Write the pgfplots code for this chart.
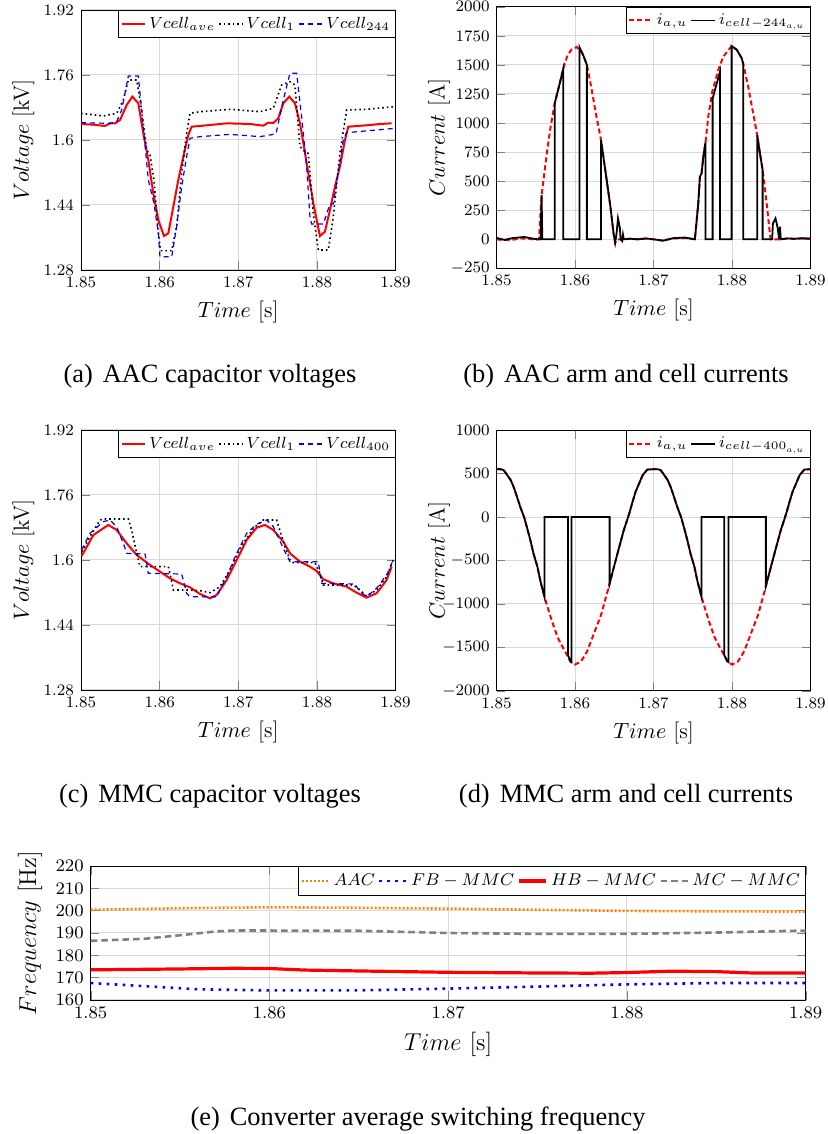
\RequirePackage{fix-cm}
\documentclass[border=0pt]{standalone}
\usepackage{fontspec}
\newfontfamily\capfont{Liberation Serif}
\usepackage{pgfplots}
\pgfplotsset{compat=1.18}
\pgfplotsset{
  base/.style={
    scale only axis, anchor=south west,
    xmin=1.85, xmax=1.89,
    xtick={1.85,1.86,1.87,1.88,1.89},
    xticklabel style={/pgf/number format/.cd, fixed, fixed zerofill, precision=2},
    yticklabel style={/pgf/number format/1000 sep={}},
    scaled x ticks=false, scaled y ticks=false,
    grid=major, grid style={gray!30, line width=0.5pt},
    tick label style={font=\fontsize{8}{9.5}\selectfont},
    label style={font=\fontsize{11}{13}\selectfont},
    ylabel style={at={(axis description cs:-0.183,0.5)}, anchor=center},
    xlabel={$Time$ [s]},
    legend style={at={(1,1)}, anchor=north east, draw=black, fill=white,
      font=\fontsize{8.1}{9.5}\selectfont, inner xsep=1pt, inner ysep=1pt,
      nodes={inner xsep=1.5pt, inner ysep=2.2pt},
      /tikz/every even column/.append style={column sep=0pt}},
    legend columns=-1,
    legend image code/.code={\draw[#1] (0cm,0cm) -- (0.42cm,0cm);},
  },
  vstyle/.style={base, ymin=1.28, ymax=1.92, ytick={1.28,1.44,1.6,1.76,1.92},
    ylabel={$Voltage$ [kV]}},
  avel/.style={red, line width=1pt},
  onel/.style={black, line width=0.8pt, dash pattern=on 0.8pt off 1.5pt},
  twol/.style={blue, line width=0.6pt, dash pattern=on 2.5pt off 2pt},
  iarm/.style={red, line width=1pt, dash pattern=on 2.5pt off 1.5pt},
  icell/.style={black, line width=0.9pt},
}
\begin{document}
\begin{tikzpicture}
\path[use as bounding box] (0,0) rectangle (414pt,567pt);

% (a)
\begin{axis}[vstyle, at={(40.5pt,432pt)}, width=157.3pt, height=130pt]
\addplot[avel] coordinates {
(1.8500,1.6394)(1.85157,1.6377)(1.85305,1.6345)(1.85369,1.6410)(1.85432,1.6410)
(1.85496,1.6492)(1.85581,1.6862)(1.85653,1.7067)(1.85729,1.6903)(1.85792,1.6164)
(1.85856,1.5508)(1.85919,1.4687)(1.85983,1.4031)(1.86055,1.3637)(1.86110,1.3703)
(1.86174,1.4359)(1.86237,1.5015)(1.86301,1.5590)(1.86364,1.6123)(1.86407,1.6328)
(1.86513,1.6345)(1.86852,1.6410)(1.87148,1.6394)(1.87318,1.6353)(1.87381,1.6427)
(1.87445,1.6418)(1.87508,1.6533)(1.87572,1.6903)(1.87648,1.7067)(1.87720,1.6903)
(1.87784,1.6410)(1.87835,1.5836)(1.87890,1.5180)(1.87962,1.4359)(1.88038,1.3637)
(1.88102,1.3744)(1.88165,1.4277)(1.88229,1.4851)(1.88292,1.5344)(1.88356,1.6000)
(1.88398,1.6328)(1.88631,1.6361)(1.88801,1.6394)(1.88949,1.6410)};
\addlegendentry{$Vcell_{ave}$}
\addplot[onel] coordinates {
(1.8500,1.6656)(1.85284,1.6591)(1.85453,1.6656)(1.85538,1.6985)(1.85602,1.7477)
(1.85708,1.7477)(1.85771,1.6738)(1.85835,1.5754)(1.85877,1.5631)(1.85928,1.5015)
(1.85983,1.3703)(1.86013,1.3276)(1.86153,1.3276)(1.86216,1.3867)(1.86280,1.5180)
(1.86343,1.6164)(1.86386,1.6656)(1.86513,1.6697)(1.86894,1.6755)(1.87275,1.6697)
(1.87445,1.6779)(1.87551,1.7354)(1.87657,1.7436)(1.87720,1.7354)(1.87784,1.5836)
(1.87847,1.5713)(1.87890,1.5672)(1.87953,1.4195)(1.88017,1.3292)(1.88144,1.3292)
(1.88208,1.4113)(1.88292,1.5672)(1.88377,1.6738)(1.88631,1.6755)(1.88992,1.6821)};
\addlegendentry{$Vcell_{1}$}
\addplot[twol] coordinates {
(1.8500,1.6427)(1.85369,1.6410)(1.85453,1.6451)(1.85517,1.6738)(1.85602,1.7575)
(1.85729,1.7575)(1.85792,1.6328)(1.85856,1.5015)(1.85928,1.4441)(1.85983,1.3703)
(1.86004,1.3128)(1.86153,1.3128)(1.86216,1.3867)(1.86280,1.4851)(1.86343,1.5590)
(1.86386,1.6041)(1.86513,1.6082)(1.86894,1.6139)(1.87275,1.6082)(1.87479,1.6148)
(1.87572,1.6985)(1.87657,1.7641)(1.87742,1.7641)(1.87805,1.6574)(1.87869,1.5344)
(1.87911,1.4113)(1.87932,1.3933)(1.88081,1.3933)(1.88165,1.4425)(1.88208,1.4425)
(1.88335,1.6000)(1.88377,1.6180)(1.88992,1.6287)};
\addlegendentry{$Vcell_{244}$}
\end{axis}

% (b)
\begin{axis}[base, at={(248.3pt,432.8pt)}, width=157pt, height=130.8pt,
  ymin=-250, ymax=2000, ytick={-250,0,250,...,2000}, ylabel={$Current$ [A]}]
\addplot[iarm] coordinates {
(1.8500,0)(1.8510,-8)(1.8520,-5)(1.8530,8)(1.8540,5)(1.8550,-3)(1.8554,0)
(1.85573,380)(1.85645,767)(1.85688,967)(1.8574,1170)(1.8580,1330)(1.8585,1470)
(1.8590,1575)(1.8595,1630)(1.8602,1655)(1.8610,1590)(1.8615,1500)(1.8620,1330)
(1.8626,1100)(1.8633,855)(1.8640,520)(1.8645,280)(1.8649,50)(1.8651,-30)(1.8654,0)
(1.8660,0)(1.8670,5)(1.8680,0)(1.8690,6)(1.8700,0)(1.8712,-10)(1.8725,8)(1.8740,12)
(1.87526,0)(1.87569,308)(1.87590,538)(1.87611,566)(1.87633,710)(1.87662,839)
(1.87696,1054)(1.87747,1269)(1.87823,1455)(1.87887,1570)(1.87994,1662)(1.8806,1630)
(1.8812,1560)(1.88141,1512)(1.88205,1312)(1.88269,1082)(1.8832,896)(1.88355,739)
(1.88389,595)(1.8844,308)(1.8849,0)(1.8860,0)(1.8870,6)(1.8880,4)(1.8890,8)(1.8900,5)};
\addlegendentry{$i_{a,u}$}
\addplot[icell] coordinates {
(1.8500,12)(1.8510,-5)(1.8520,10)(1.8535,20)(1.8547,5)(1.8553,0)(1.8556,0)
(1.85573,380)(1.85582,0)(1.8574,0)(1.8574,1170)(1.8580,1330)(1.8585,1470)(1.8585,0)
(1.86057,0)(1.86057,1650)(1.8610,1590)(1.8615,1500)(1.8615,0)(1.8633,0)(1.8633,855)
(1.8640,520)(1.8645,280)(1.8649,50)(1.8651,-30)(1.8653,60)(1.86546,180)(1.8657,100)
(1.8658,0)(1.8660,-15)(1.8661,40)(1.8662,0)(1.8670,5)(1.8680,0)(1.8690,8)(1.8700,0)
(1.8712,-12)(1.8725,10)(1.8740,15)(1.87526,0)(1.87569,308)(1.87590,538)(1.87611,566)
(1.87633,710)(1.87662,839)(1.87662,0)(1.87752,0)(1.87752,1211)(1.87845,1440)
(1.87845,0)(1.87994,0)(1.87994,1662)(1.8806,1630)(1.8812,1560)(1.88141,1512)
(1.88141,0)(1.8832,0)(1.8832,896)(1.88355,739)(1.88389,595)(1.88389,0)(1.8851,0)
(1.8852,137)(1.88553,180)(1.8858,100)(1.8860,0)(1.8861,108)(1.8862,0)(1.8870,8)
(1.8880,5)(1.8890,10)(1.8900,5)};
\addlegendentry{$i_{cell-244_{a,u}}$}
\end{axis}

% (c)
\begin{axis}[vstyle, at={(40.5pt,222pt)}, width=157.3pt, height=130pt]
\addplot[avel] coordinates {
(1.85008,1.6098)(1.85157,1.6615)(1.85347,1.6862)(1.85453,1.6738)(1.85581,1.6410)
(1.85708,1.6123)(1.85877,1.5877)(1.86004,1.5713)(1.86131,1.5549)(1.86258,1.5426)
(1.86386,1.5327)(1.86513,1.5163)(1.86640,1.5056)(1.86725,1.5138)(1.86852,1.5508)
(1.86979,1.6000)(1.87106,1.6492)(1.87233,1.6796)(1.87339,1.6862)(1.87445,1.6738)
(1.87572,1.6451)(1.87657,1.6164)(1.87784,1.5959)(1.87911,1.5836)(1.87996,1.5729)
(1.88081,1.5524)(1.88208,1.5426)(1.88377,1.5344)(1.88504,1.5196)(1.88631,1.5073)
(1.88758,1.5180)(1.88886,1.5508)(1.88949,1.5836)};
\addlegendentry{$Vcell_{ave}$}
\addplot[onel] coordinates {
(1.85008,1.6205)(1.85114,1.6574)(1.85242,1.6985)(1.85284,1.7009)(1.85602,1.7009)
(1.85644,1.6738)(1.85708,1.6164)(1.85750,1.5836)(1.86110,1.5836)(1.86140,1.5590)
(1.86174,1.5262)(1.86364,1.5262)(1.86513,1.5245)(1.86640,1.5196)(1.86767,1.5344)
(1.86894,1.5754)(1.87021,1.6287)(1.87191,1.6779)(1.87318,1.6985)(1.87487,1.6985)
(1.87593,1.6328)(1.87657,1.6000)(1.87699,1.5934)(1.87975,1.5934)(1.88038,1.5672)
(1.88081,1.5385)(1.88462,1.5385)(1.88547,1.5262)(1.88631,1.5114)(1.88758,1.5262)
(1.88886,1.5590)(1.88970,1.6000)};
\addlegendentry{$Vcell_{1}$}
\addplot[twol] coordinates {
(1.85008,1.6246)(1.85114,1.6656)(1.85284,1.6944)(1.85369,1.6985)(1.85453,1.6821)
(1.85538,1.6410)(1.85581,1.6164)(1.85814,1.6148)(1.85856,1.5672)(1.86280,1.5655)
(1.86343,1.5180)(1.86386,1.5097)(1.86725,1.5097)(1.86852,1.5590)(1.86979,1.6164)
(1.87106,1.6656)(1.87233,1.6878)(1.87360,1.6985)(1.87445,1.6821)(1.87572,1.6287)
(1.87657,1.5959)(1.88017,1.5959)(1.88059,1.5426)(1.88483,1.5409)(1.88547,1.5220)
(1.88631,1.5097)(1.88758,1.5303)(1.88886,1.5631)(1.88970,1.6000)};
\addlegendentry{$Vcell_{400}$}
\end{axis}

% (d)
\begin{axis}[base, at={(248.3pt,221.6pt)}, width=157pt, height=130.3pt,
  ymin=-2000, ymax=1000, ytick={-2000,-1500,...,1000}, ylabel={$Current$ [A]}]
\addplot[iarm] coordinates {
(1.8500,551)(1.8505,551)(1.8509,540)(1.8513,490)(1.8518,425)(1.8522,340)(1.8526,232)
(1.8530,120)(1.8535,0)(1.8539,-130)(1.8543,-266)(1.8547,-420)(1.8552,-573)(1.8556,-745)
(1.8561,-918)(1.8567,-1100)(1.8573,-1264)(1.8578,-1390)(1.8584,-1494)(1.8591,-1609)
(1.8594,-1666)(1.8600,-1697)(1.8607,-1666)(1.8612,-1600)(1.8616,-1532)(1.8624,-1340)
(1.8633,-1129)(1.8644,-766)(1.8649,-590)(1.8654,-419)(1.8662,-151)(1.8669,41)
(1.8673,170)(1.8677,290)(1.8686,482)(1.8692,547)(1.8700,551)(1.8705,551)(1.8709,540)
(1.8713,490)(1.8718,425)(1.8722,340)(1.8726,232)(1.8730,120)(1.8735,0)(1.8739,-130)
(1.8743,-266)(1.8747,-420)(1.8752,-573)(1.8756,-745)(1.8761,-918)(1.8767,-1100)
(1.8773,-1264)(1.8778,-1390)(1.8784,-1494)(1.8791,-1609)(1.8794,-1666)(1.8800,-1697)
(1.8807,-1666)(1.8812,-1600)(1.8816,-1532)(1.8824,-1340)(1.8833,-1129)(1.8844,-766)
(1.8849,-590)(1.8854,-419)(1.8862,-151)(1.8869,41)(1.8873,170)(1.8877,290)(1.8886,482)
(1.8892,547)(1.8900,551)};
\addlegendentry{$i_{a,u}$}
\addplot[icell] coordinates {
(1.8500,551)(1.8505,551)(1.8509,540)(1.8513,490)(1.8518,425)(1.8522,340)(1.8526,232)
(1.8530,120)(1.8535,0)(1.8539,-130)(1.8543,-266)(1.8547,-420)(1.8552,-573)(1.8556,-745)
(1.8561,-918)(1.8561,0)(1.8591,0)(1.8591,-1590)(1.8594,-1660)(1.85955,-1670)(1.85955,0)
(1.8644,0)(1.8644,-766)(1.8649,-590)(1.8654,-419)(1.8662,-151)(1.8669,41)
(1.8673,170)(1.8677,290)(1.8686,482)(1.8692,547)(1.8700,551)(1.8705,551)(1.8709,540)
(1.8713,490)(1.8718,425)(1.8722,340)(1.8726,232)(1.8730,120)(1.8735,0)(1.8739,-130)
(1.8743,-266)(1.8747,-420)(1.8752,-573)(1.8756,-745)(1.8761,-918)(1.8761,0)(1.8790,0)
(1.8790,-1590)(1.8794,-1660)(1.87955,-1670)(1.87955,0)(1.8843,0)(1.8843,-790)
(1.8849,-590)(1.8854,-419)(1.8862,-151)(1.8869,41)(1.8873,170)(1.8877,290)(1.8886,482)
(1.8892,547)(1.8900,551)};
\addlegendentry{$i_{cell-400_{a,u}}$}
\end{axis}

% (e)
\begin{axis}[base, at={(45.35pt,67pt)}, width=357.5pt, height=67pt,
  ymin=160, ymax=220, ytick={160,170,...,220}, ylabel={$Frequency$ [Hz]},
  tick label style={font=\fontsize{8.8}{10.5}\selectfont},
  label style={font=\fontsize{12.2}{14}\selectfont},
  ylabel style={at={(axis description cs:-0.0849,0.5)}, anchor=center},
  legend style={font=\fontsize{8.5}{10.5}\selectfont, nodes={inner xsep=1.6pt, inner ysep=2.6pt}},
  legend image code/.code={\draw[#1] (0cm,0cm) -- (0.48cm,0cm);}]
\addplot[orange, line width=1.3pt, dash pattern=on 1pt off 1pt] coordinates {
(1.850,200.4)(1.853,200.8)(1.856,201.2)(1.860,201.5)(1.865,201.3)(1.870,200.9)
(1.875,200.4)(1.880,199.9)(1.885,199.7)(1.890,199.6)};
\addlegendentry{$AAC$}
\addplot[blue, line width=1.3pt, dash pattern=on 1.3pt off 2.7pt] coordinates {
(1.850,167.6)(1.853,166.2)(1.856,164.8)(1.860,164.3)(1.865,164.3)(1.870,165.1)
(1.875,166.0)(1.880,167.0)(1.885,167.6)(1.890,167.6)};
\addlegendentry{$FB-MMC$}
\addplot[red, line width=1.6pt] coordinates {
(1.850,173.5)(1.855,173.9)(1.858,174.2)(1.860,174.1)(1.862,173.4)(1.865,173.0)
(1.870,172.4)(1.875,172.1)(1.878,172.0)(1.880,172.3)(1.8825,172.9)(1.885,172.7)
(1.887,172.1)(1.890,172.1)};
\addlegendentry{$HB-MMC$}
\addplot[gray, line width=1.3pt, dash pattern=on 3.3pt off 2pt] coordinates {
(1.850,186.5)(1.853,187.4)(1.855,189.0)(1.857,190.7)(1.858,191.1)(1.860,191.1)
(1.865,191.0)(1.870,190.0)(1.875,189.6)(1.880,189.6)(1.885,190.2)(1.890,191.1)};
\addlegendentry{$MC-MMC$}
\end{axis}

\begin{scope}[every node/.style={font=\capfont\fontsize{13.2}{15}\selectfont, anchor=base, inner sep=0pt}]
\node at (105pt,375.5pt) {(a)\hspace{5pt}AAC capacitor voltages};
\node at (313pt,375.5pt) {(b)\hspace{5pt}AAC arm and cell currents};
\node at (105pt,165.5pt) {(c)\hspace{5pt}MMC capacitor voltages};
\node at (313pt,165.5pt) {(d)\hspace{5pt}MMC arm and cell currents};
\node at (209pt,4.5pt) {(e)\hspace{5pt}Converter average switching frequency};
\end{scope}
\end{tikzpicture}
\end{document}
